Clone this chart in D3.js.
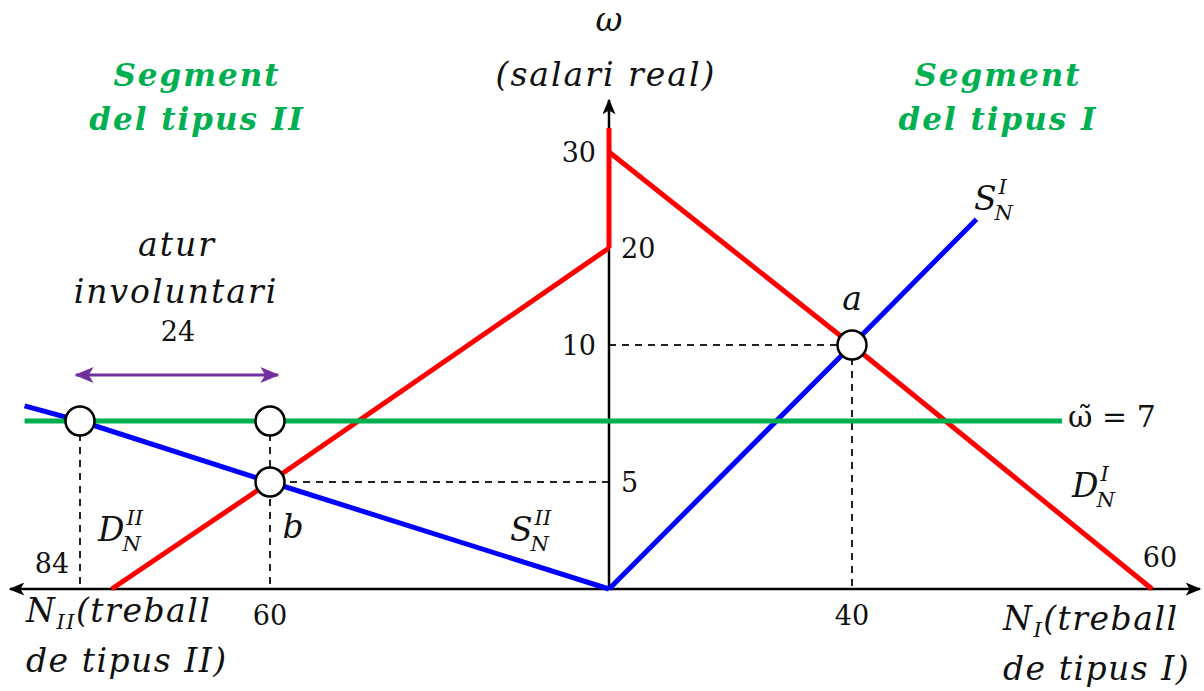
<!DOCTYPE html>
<html>
<head>
<meta charset="utf-8">
<script src="https://cdn.jsdelivr.net/npm/d3@7"></script>
<style>
  body { margin: 0; background: #fff; }
  svg { display: block; }
  text { font-family: "DejaVu Serif", serif; fill: #111; }
</style>
</head>
<body>
<div id="chart"></div>
<script>
// data (schematic diagram, axes are not to scale)
var yTicks = [5, 10, 20, 30];
var xTicksI = [40, 60];     // right side, treball de tipus I
var xTicksII = [60, 84];    // left side, treball de tipus II

var demandI = [[0, 30], [40, 10], [60, 0]];
var supplyI = [[0, 0], [40, 10], [48.3, 23]];
var demandII = [[0, 20], [60, 5], [80, 0]];
var supplyII = [[0, 0], [60, 5], [84, 7], [91, 7.6]];
var wageJump = [[0, 20], [0, 32.5]];   // vertical red piece on the axis
var minWage = 7;
var wageRange = [91, 54];              // [N_II end, N_I end]
var pointA = [40, 10];
var pointB = [60, 5];
var unemployment = [60, 84];           // 24 workers

var width = 1204, height = 691;

var svg = d3.select("#chart").append("svg")
	.attr("width", width)
	.attr("height", height);

// piecewise scales, the picture is a sketch
var y = d3.scaleLinear().domain([0, 5, 7, 10, 20, 30]).range([589, 482, 421, 345, 248, 152]);
var xI = d3.scaleLinear().domain([0, 40, 60]).range([609, 852, 1152]);
var xII = d3.scaleLinear().domain([0, 60, 84]).range([609, 270, 80]);

var defs = svg.append("defs");
function arrowMarker(id, color, w, h) {
	defs.append("marker")
		.attr("id", id)
		.attr("viewBox", "0 0 12 10")
		.attr("refX", 11).attr("refY", 5)
		.attr("markerWidth", w).attr("markerHeight", h)
		.attr("markerUnits", "userSpaceOnUse")
		.attr("orient", "auto-start-reverse")
		.append("path")
		.attr("d", "M0,0 L12,5 L0,10 L3,5 Z")
		.style("fill", color);
}
arrowMarker("ax", "#000", 16, 13);
arrowMarker("pu", "#7030a0", 20, 16);

var lineI = d3.line().x(d => xI(d[0])).y(d => y(d[1]));
var lineII = d3.line().x(d => xII(d[0])).y(d => y(d[1]));

// dashed guides
var dash = svg.append("g")
	.style("stroke", "#222")
	.style("stroke-width", 2)
	.style("stroke-dasharray", "7,6");
dash.append("line")
	.attr("x1", xI(0)).attr("x2", xI(pointA[0]))
	.attr("y1", y(pointA[1])).attr("y2", y(pointA[1]));
dash.append("line")
	.attr("x1", xI(pointA[0])).attr("x2", xI(pointA[0]))
	.attr("y1", y(pointA[1])).attr("y2", y(0));
dash.append("line")
	.attr("x1", xII(0)).attr("x2", xII(pointB[0]))
	.attr("y1", y(pointB[1])).attr("y2", y(pointB[1]));
unemployment.forEach(function(n) {
	dash.append("line")
		.attr("x1", xII(n)).attr("x2", xII(n))
		.attr("y1", y(minWage)).attr("y2", y(0));
});

// axes
svg.append("line")
	.attr("x1", 10).attr("x2", 1200)
	.attr("y1", y(0)).attr("y2", y(0))
	.style("stroke", "#000").style("stroke-width", 2.5)
	.attr("marker-start", "url(#ax)")
	.attr("marker-end", "url(#ax)");
svg.append("line")
	.attr("x1", xI(0)).attr("x2", xI(0))
	.attr("y1", y(0)).attr("y2", 100)
	.style("stroke", "#000").style("stroke-width", 2.5)
	.attr("marker-end", "url(#ax)");

// curves
var curves = [
	{d: demandII, f: lineII, c: "#ff0000"},
	{d: supplyII, f: lineII, c: "#0000ff"},
	{d: wageJump, f: lineI, c: "#ff0000"},
	{d: demandI, f: lineI, c: "#ff0000"},
	{d: supplyI, f: lineI, c: "#0000ff"}
];
svg.selectAll("path.curve")
	.data(curves)
	.enter()
	.append("path")
	.attr("class", "curve")
	.attr("d", d => d.f(d.d))
	.style("fill", "none")
	.style("stroke", d => d.c)
	.style("stroke-width", 5)
	.style("stroke-linejoin", "miter");

// minimum wage line
svg.append("line")
	.attr("x1", xII(wageRange[0])).attr("x2", xI(wageRange[1]))
	.attr("y1", y(minWage)).attr("y2", y(minWage))
	.style("stroke", "#00b050").style("stroke-width", 5);

// unemployment arrow
svg.append("line")
	.attr("x1", xII(unemployment[1]) - 4).attr("x2", xII(unemployment[0]) + 8)
	.attr("y1", 375).attr("y2", 375)
	.style("stroke", "#7030a0").style("stroke-width", 3)
	.attr("marker-start", "url(#pu)")
	.attr("marker-end", "url(#pu)");

// circles
var pts = [
	{x: xI(pointA[0]), y: y(pointA[1])},
	{x: xII(pointB[0]), y: y(pointB[1])},
	{x: xII(unemployment[0]), y: y(minWage)},
	{x: xII(unemployment[1]), y: y(minWage)}
];
svg.selectAll("circle.pt")
	.data(pts)
	.enter()
	.append("circle")
	.attr("cx", d => d.x).attr("cy", d => d.y)
	.attr("r", 14.5)
	.style("fill", "#fff")
	.style("stroke", "#000")
	.style("stroke-width", 2.5);

// tick labels
var fs = "27px";
function num(x, yy, t, anchor) {
	svg.append("text").attr("x", x).attr("y", yy)
		.attr("text-anchor", anchor || "middle")
		.style("font-size", fs)
		.text(t);
}
num(xI(0) - 13, y(yTicks[3]) + 10, "30", "end");
num(xI(0) + 12, y(yTicks[2]) + 10, "20", "start");
num(xI(0) - 13, y(yTicks[1]) + 10, "10", "end");
num(xI(0) + 12, y(yTicks[0]) + 10, "5", "start");
num(xI(xTicksI[0]), 625, "40");
num(xI(xTicksI[1]) + 8, 567, "60");
num(xII(xTicksII[0]), 625, "60");
num(xII(xTicksII[1]) - 28, 573, "84");

// italic labels
var big = "33px", small = "21px";
function it(x, yy, t, size, anchor, color, weight) {
	return svg.append("text").attr("x", x).attr("y", yy)
		.attr("text-anchor", anchor || "middle")
		.style("font-style", "italic")
		.style("font-size", size)
		.style("fill", color || "#111")
		.style("font-weight", weight || "normal")
		.text(t);
}
it(609, 31, "ω", big);
it(606, 86, "(salari real)", big).style("letter-spacing", "2px");

it(197, 86, "Segment", "31px", "middle", "#00b050", "bold").style("letter-spacing", "2px");
it(197, 130, "del tipus II", "31px", "middle", "#00b050", "bold").style("letter-spacing", "2px");
it(998, 86, "Segment", "31px", "middle", "#00b050", "bold").style("letter-spacing", "2px");
it(998, 130, "del tipus I", "31px", "middle", "#00b050", "bold").style("letter-spacing", "2px");

it(177, 256, "atur", big).style("letter-spacing", "2px");
it(176, 303, "involuntari", big).style("letter-spacing", "2px");
num(178, 341, "24");

it(xI(pointA[0]), 310, "a", big);
it(293, 538, "b", big);

// symbol with stacked super/subscript
function sym(x, yy, base, sup, sub) {
	var b = it(x, yy, base, big, "start");
	var bx = x + b.node().getComputedTextLength();
	it(bx + 2, yy - 16, sup, small, "start");
	it(bx - 2, yy + 10, sub, small, "start");
}
sym(974, 210, "S", "I", "N");
sym(1072, 497, "D", "I", "N");
sym(98, 541, "D", "II", "N");
sym(510, 541, "S", "II", "N");

// wage label
var wl = svg.append("text").attr("x", 1068).attr("y", 427).style("font-size", "30px");
wl.append("tspan").text("ω\u0303");
wl.append("tspan").text(" = 7");

// axis titles
function axisTitle(x, yy, sub, rest1, rest2) {
	var t = it(x, yy, "", big, "start").style("letter-spacing", "1.5px");
	t.append("tspan").text("N");
	t.append("tspan").attr("dy", 7).style("font-size", small).text(sub);
	t.append("tspan").attr("dy", -7).text(rest1);
	it(x, yy + 50, rest2, big, "start").style("letter-spacing", "1.5px");
}
axisTitle(26, 622, "II", "(treball", "de tipus II)");
axisTitle(1003, 630, "I", "(treball", "de tipus I)");
</script>
</body>
</html>
